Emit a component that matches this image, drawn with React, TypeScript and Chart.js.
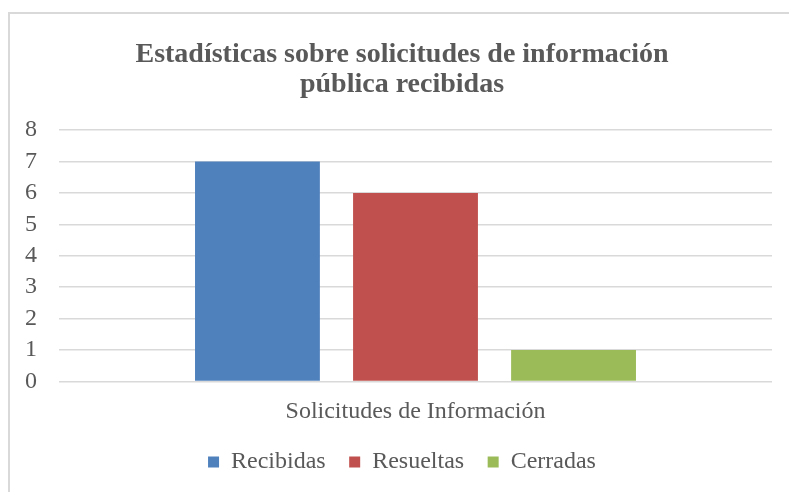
import React, { useEffect, useRef } from "react";
import { Chart, registerables } from "chart.js";

Chart.register(...registerables);

const categories = ["Solicitudes de Información"];
const seriesNames = ["Recibidas", "Resueltas", "Cerradas"];
const recibidas = [7];
const resueltas = [6];
const cerradas = [1];
const seriesColors = ["#4F81BD", "#C0504D", "#9BBB59"];
const yTicks = [0, 1, 2, 3, 4, 5, 6, 7, 8];
const titleLines = ["Estadísticas sobre solicitudes de información", "pública recibidas"];

const SERIF = "'Liberation Serif', 'Times New Roman', serif";
const TEXT = "#595959";
const GRID = "#d9d9d9";

export default function App() {
  const ref = useRef<HTMLCanvasElement | null>(null);

  useEffect(() => {
    if (!ref.current) return;
    const values = [recibidas, resueltas, cerradas];
    const chart = new Chart(ref.current, {
      type: "bar",
      data: {
        labels: categories,
        datasets: seriesNames.map((name, i) => ({
          label: name,
          data: values[i],
          backgroundColor: seriesColors[i],
          borderWidth: 0,
          barPercentage: 0.79,
          categoryPercentage: 0.665,
          yAxisID: "y",
        })),
      },
      options: {
        animation: false,
        responsive: false,
        devicePixelRatio: 1,
        layout: { padding: { left: 15, right: 0, top: 39, bottom: 8 } },
        plugins: {
          title: {
            display: true,
            text: titleLines,
            color: TEXT,
            font: { family: SERIF, size: 28, weight: "bold", lineHeight: 1.1 },
            padding: { top: 0, bottom: 29.4 },
          },
          legend: {
            position: "bottom",
            labels: {
              boxWidth: 11,
              boxHeight: 11,
              color: TEXT,
              font: { family: SERIF, size: 24 },
              padding: 23.5,
            },
          },
          tooltip: { enabled: false },
        },
        scales: {
          x: {
            grid: { display: false, drawTicks: false },
            border: { display: false },
            ticks: { color: TEXT, font: { family: SERIF, size: 24 }, padding: 16 },
            afterFit: (scale: any) => {
              scale.height = 45;
            },
          },
          y: {
            position: "left",
            min: 0,
            max: 8,
            afterBuildTicks: (scale: any) => {
              scale.ticks = yTicks.map((v) => ({ value: v }));
            },
            afterFit: (scale: any) => {
              scale.width = 44;
            },
            grid: { color: GRID, lineWidth: 1.5, drawTicks: false },
            border: { display: false },
            ticks: { color: TEXT, font: { family: SERIF, size: 24 }, padding: 22, autoSkip: false },
          },
          yRight: {
            position: "right",
            display: true,
            grid: { display: false, drawTicks: false },
            border: { display: false },
            ticks: { display: false },
            afterFit: (scale: any) => {
              scale.width = 17;
            },
          },
        },
      },
    });
    return () => chart.destroy();
  }, []);

  return (
    <div style={{ position: "fixed", left: 0, top: 0, width: 789, height: 492, background: "#fff", overflow: "hidden" }}>
      <div
        style={{
          position: "absolute",
          left: 8,
          top: 12,
          width: 900,
          height: 600,
          border: `2px solid ${GRID}`,
          boxSizing: "border-box",
        }}
      />
      <canvas ref={ref} width={789} height={492} style={{ position: "absolute", left: 0, top: 0, width: 789, height: 492 }} />
    </div>
  );
}
